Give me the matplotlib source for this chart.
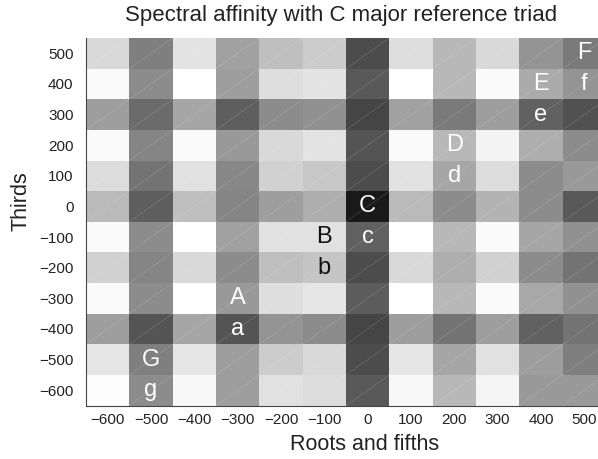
import numpy as np
import matplotlib
matplotlib.use('Agg')
import matplotlib.pyplot as plt
from matplotlib.collections import LineCollection

plt.rcParams['font.family'] = ['Liberation Sans', 'DejaVu Sans']

# roots and fifths (columns), thirds (rows, top to bottom)
roots = [-600, -500, -400, -300, -200, -100, 0, 100, 200, 300, 400, 500]
thirds = [500, 400, 300, 200, 100, 0, -100, -200, -300, -400, -500, -600]

# cell brightness (1 = white, 0 = black)
shade = np.array([
    [0.85, 0.50, 0.89, 0.63, 0.75, 0.80, 0.30, 0.87, 0.72, 0.85, 0.58, 0.48],
    [0.98, 0.55, 1.00, 0.62, 0.87, 0.89, 0.35, 1.00, 0.72, 0.98, 0.67, 0.58],
    [0.62, 0.42, 0.65, 0.37, 0.55, 0.57, 0.27, 0.63, 0.48, 0.62, 0.38, 0.32],
    [0.98, 0.52, 0.98, 0.60, 0.85, 0.89, 0.33, 0.98, 0.72, 0.95, 0.68, 0.55],
    [0.86, 0.45, 0.88, 0.53, 0.82, 0.78, 0.30, 0.88, 0.65, 0.86, 0.55, 0.60],
    [0.73, 0.37, 0.75, 0.52, 0.62, 0.68, 0.10, 0.73, 0.55, 0.70, 0.55, 0.35],
    [0.98, 0.55, 1.00, 0.63, 0.88, 0.88, 0.38, 1.00, 0.72, 0.98, 0.65, 0.57],
    [0.82, 0.52, 0.85, 0.55, 0.75, 0.77, 0.30, 0.85, 0.68, 0.82, 0.55, 0.45],
    [0.98, 0.55, 1.00, 0.60, 0.87, 0.90, 0.36, 1.00, 0.72, 0.98, 0.66, 0.57],
    [0.62, 0.33, 0.65, 0.33, 0.58, 0.55, 0.27, 0.62, 0.45, 0.62, 0.38, 0.45],
    [0.90, 0.50, 0.90, 0.62, 0.80, 0.85, 0.30, 0.90, 0.65, 0.88, 0.62, 0.50],
    [0.99, 0.55, 0.97, 0.62, 0.88, 0.86, 0.35, 0.97, 0.72, 0.96, 0.60, 0.60],
])
affinity = 1 - shade

# chord labels
chords = ['C', 'c', 'B', 'b', 'A', 'a', 'G', 'g', 'D', 'd', 'E', 'e', 'F', 'f']
chord_x = [0, 0, -100, -100, -300, -300, -500, -500, 200, 200, 400, 400, 500, 500]
chord_y = [0, -100, -100, -200, -300, -400, -500, -600, 200, 100, 400, 300, 500, 400]
dark_labels = ['B', 'b']

fig = plt.figure(figsize=(5.98, 4.59), dpi=100)
ax = fig.add_axes([86/598, 1-405.5/459, 520/598, 367.5/459])

xe = np.append(np.array(roots) - 50, roots[-1] + 50)
ye = np.append(np.array(thirds) + 50, thirds[-1] - 50)
ax.pcolormesh(xe, ye, affinity, cmap='gray_r', vmin=0, vmax=1, shading='flat')

# faint diagonal seams through every cell
segs = []
for xi in roots:
    for yi in thirds:
        segs.append([(xi-50, yi-50), (xi+50, yi+50)])
ax.add_collection(LineCollection(segs, colors='white', linewidths=0.4,
                                 alpha=0.28, linestyles=(0, (3, 1))))

for lab, cx, cy in zip(chords, chord_x, chord_y):
    col = '#111111' if lab in dark_labels else 'white'
    ax.text(cx, cy, lab, ha='center', va='center', color=col, fontsize=17)

ax.set_xlim(xe[0], xe[-1])
ax.set_ylim(ye[-1], ye[0])
ax.set_xticks(roots)
ax.set_yticks(thirds)
ax.set_xticklabels([str(v).replace('-', '\u2212') for v in roots])
ax.set_yticklabels([str(v).replace('-', '\u2212') for v in thirds])
ax.tick_params(length=0, labelsize=11, colors='#222222')
ax.tick_params(axis='y', pad=9)
ax.tick_params(axis='x', pad=5.5)
for s in ['top', 'right']:
    ax.spines[s].set_visible(False)
for s in ['left', 'bottom']:
    ax.spines[s].set_color('#444444')
    ax.spines[s].set_linewidth(0.8)

ax.set_title('Spectral affinity with C major reference triad', fontsize=16,
             x=(341-86)/520, y=(405.5-21)/367.5, va='baseline', pad=0, color='#222222')
ax.set_xlabel('Roots and fifths', fontsize=15.5, color='#222222')
ax.xaxis.set_label_coords((365-86)/520, -(434-405.5)/367.5)
ax.xaxis.label.set_va('top')
ax.set_ylabel('Thirds', fontsize=15.5, color='#222222')
ax.yaxis.set_label_coords((32-86)/520, (405.5-201)/367.5)

fig.savefig('out.png', dpi=100)
